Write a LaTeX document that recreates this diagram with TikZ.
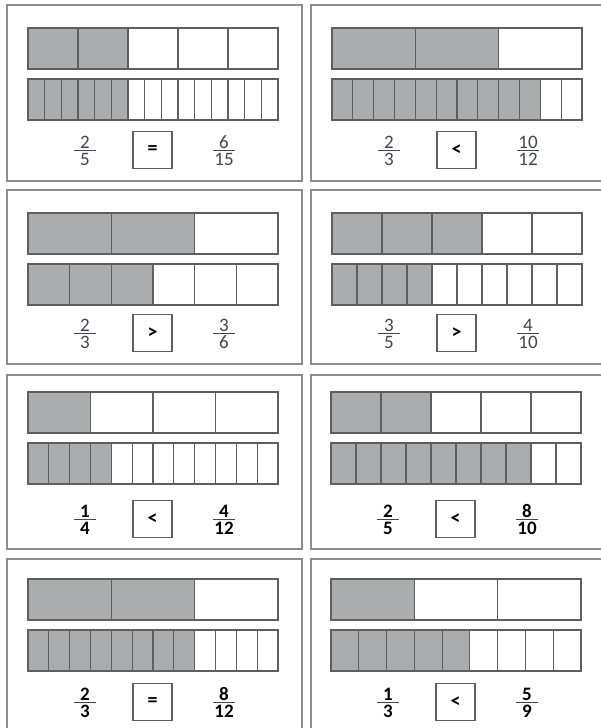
\documentclass[tikz,border=0pt]{standalone}
\usepackage{fontspec}
\setmainfont{Carlito}
\usepackage{tikz}
\usetikzlibrary{calc,positioning}
\definecolor{partgray}{HTML}{AAACAE}
\definecolor{stripline}{HTML}{5E5F61}
\definecolor{panelline}{HTML}{8C8D8F}
\definecolor{numtext}{HTML}{3E4652}
\tikzset{
    panel/.style={draw=panelline,line width=1.8pt},
    cell/.style={draw=stripline,line width=1.2pt},
    signbox/.style={
        draw=stripline,line width=1.2pt,
        minimum width=39pt,minimum height=37pt,inner sep=0pt,
        font=\bfseries\fontsize{20}{20}\selectfont
    },
    digit/.style={inner sep=0pt,anchor=base,text=numtext,
        text height=11pt,text depth=0pt,
        font=\fontsize{19}{19}\selectfont},
    fracbar/.style={draw=numtext,line width=1pt}
}

\begin{document}
\begin{tikzpicture}[x=1pt,y=-1pt]
\useasboundingbox (0,0) rectangle (601,728);
\foreach \px in {7,311}
    \foreach \py/\ph in {5/176,190/174,375/174,559/174}
        \draw[panel] (\px,\py) rectangle ++(295,\ph);

\foreach \k/\x/\y/\by/\na/\sa/\nb/\sb/\fa/\fb/\sg/\fc/\fd in {
    1/28/28/150/5/2/15/6/2/5/=/6/15,
    2/332/28/150/3/2/12/10/2/3/</10/12,
    3/28/213/333/3/2/6/3/2/3/>/3/6,
    4/332/213/333/5/3/10/4/3/5/>/4/10,
    5/28/392/519/4/1/12/4/1/4/</4/12,
    6/331/392/519/5/2/10/8/2/5/</8/10,
    7/28/579/702/3/2/12/8/2/3/=/8/12,
    8/331/579/702/3/1/9/5/1/3/</5/9}{
    \pgfmathsetmacro\wa{250/\na}
    \pgfmathsetmacro\wb{250/\nb}
    \fill[partgray] (\x,\y) rectangle ++(\wa*\sa,41);
    \fill[partgray] (\x,\y+51) rectangle ++(\wb*\sb,41);
    \foreach \i in {1,...,\na}
        \draw[cell] (\x+\wa*\i-\wa,\y) rectangle ++(\wa,41);
    \foreach \i in {1,...,\nb}
        \draw[cell] (\x+\wb*\i-\wb,\y+51) rectangle ++(\wb,41);
    % comparison sign and the two fractions
    \node[signbox] (sign\k) at (\x+124.5,\by) {\sg};
    \coordinate (left\k) at (\x+57,\by);
    \coordinate (right\k) at (\x+196,\by);
    \node[digit] (numl\k) at ($(left\k)+(0,-2)$) {\ifnum\k>4\bfseries\color{black}\fi\fa};
    \node[digit] (denl\k) at ($(left\k)+(0,15)$) {\ifnum\k>4\bfseries\color{black}\fi\fb};
    \node[digit] (numr\k) at ($(right\k)+(0,-2)$) {\ifnum\k>4\bfseries\color{black}\fi\fc};
    \node[digit] (denr\k) at ($(right\k)+(0,15)$) {\ifnum\k>4\bfseries\color{black}\fi\fd};
    \draw[fracbar] ([xshift=-11pt]left\k) -- ([xshift=11pt]left\k);
    \draw[fracbar] ([xshift=-11pt]right\k) -- ([xshift=11pt]right\k);
}
\end{tikzpicture}
\end{document}
